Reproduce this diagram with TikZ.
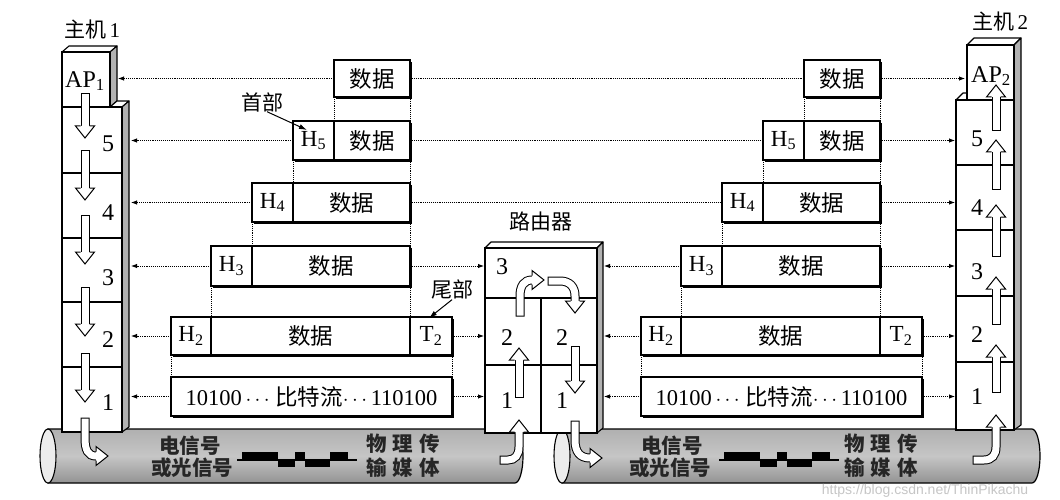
\documentclass[tikz,border=0pt]{standalone}
\usepackage{fontspec}
\setmainfont{Liberation Serif}
\newfontfamily\cjk{Noto Sans CJK SC}
\newfontfamily\wmfont{Liberation Sans}
\usetikzlibrary{arrows.meta,shadows}
\newcommand\ArrDn[3]{\draw[oshaft] (#1,#2) -- (#1,#3-12); \pic[rotate=-90] at (#1,#3-12) {ohead};}
\newcommand\ArrUp[3]{\draw[oshaft] (#1,#2) -- (#1,#3+12); \pic[rotate=90] at (#1,#3+12) {ohead};}
\tikzset{ohead/.pic={\filldraw[fill=white,line width=1pt,line join=miter] (0,-4.5) -- (0,-9.5) -- (12,0) -- (0,9.5) -- (0,4.5);}}
\begin{document}
\begin{tikzpicture}[x=1pt,y=-1pt,
 every node/.style={inner sep=0pt,outer sep=0pt,font=\fontsize{20}{22}\selectfont},
 face/.style={draw,line width=1.3pt,fill=white,anchor=north west},
 topf/.style={draw,line width=1.1pt,fill=white,line join=round},
 sidef/.style={draw,line width=1.1pt,fill=gray!60,line join=round},
 pkt/.style={draw,line width=1.3pt,fill=white,anchor=north west,general shadow={fill=black,shadow xshift=2.4pt,shadow yshift=-2.4pt}},
 fld/.style={draw,line width=1.3pt,anchor=north west,font=\fontsize{23}{24}\selectfont},
 ctxt/.style={font=\cjk\fontsize{21}{22}\selectfont},
 dtxt/.style={font=\cjk\fontsize{22.5}{24}\selectfont},
 num/.style={font=\fontsize{24}{26}\selectfont},
 bits/.style={font=\fontsize{22.5}{24}\selectfont},
 oshaft/.style={line width=1pt,double=white,double distance=7pt,line cap=rect},
 pipe/.style={draw,line width=1.2pt,top color=gray!62,bottom color=gray!85,middle color=gray!45},
 pipeend/.style={draw,line width=1.1pt,fill=gray!15},
 pipetxt/.style={font=\cjk\bfseries\fontsize{20.5}{22}\selectfont,text=black!85},
 dots/.style={densely dotted,line width=0.9pt},
 conn/.style={densely dotted,line width=0.9pt,-{Latex[length=6pt,width=4.5pt]}},
 annot/.style={line width=1pt,-{Latex[length=8pt,width=5pt]}}
]
\fill[white] (0,0) rectangle (1060,500);
\useasboundingbox (0,0) rectangle (1060,500);

% ---------- pipes ----------
\path[pipe] (48,429) -- (515,429) arc[start angle=-90,end angle=90,x radius=8,y radius=27] -- (48,483) -- cycle;
\draw[pipeend] (48,456) ellipse[x radius=8,y radius=27];
\path[pipe] (562,429) -- (1032,429) arc[start angle=-90,end angle=90,x radius=8,y radius=27] -- (562,483) -- cycle;
\draw[pipeend] (562,456) ellipse[x radius=8,y radius=27];

\node[pipetxt] (pl1) at (190,446) {电信号};
\node[pipetxt] (pl2) at (192,468) {或光信号};
\node[pipetxt] (pl3) at (403,444) {物\hspace{6pt}理\hspace{6pt}传};
\node[pipetxt] (pl4) at (403,468) {输\hspace{6pt}媒\hspace{6pt}体};
\node[pipetxt] (pr1) at (672,446) {电信号};
\node[pipetxt] (pr2) at (670,468) {或光信号};
\node[pipetxt] (pr3) at (881,444) {物\hspace{6pt}理\hspace{6pt}传};
\node[pipetxt] (pr4) at (881,468) {输\hspace{6pt}媒\hspace{6pt}体};

\foreach \dx in {0,482}{
 \begin{scope}[xshift=\dx pt]
  \draw[line width=1.5pt] (237,460) -- (357,460);
  \fill (242,452) rectangle (278,460);
  \fill (278,460) rectangle (295,467);
  \fill (295,452) rectangle (305,460);
  \fill (305,460) rectangle (330,467);
  \fill (330,452) rectangle (348,460);
 \end{scope}}

% ---------- host 1 ----------
\draw[topf] (62,52) -- (69,46) -- (117,46) -- (110,52) -- cycle;
\draw[sidef] (110,52) -- (117,46) -- (117,101) -- (110,107) -- cycle;
\draw[topf] (110,107) -- (117,101) -- (129,101) -- (122,107) -- cycle;
\draw[sidef] (122,107) -- (129,101) -- (129,427) -- (122,432) -- cycle;
\node[face,minimum width=48pt,minimum height=55pt] (H1A) at (62,52) {};
\node[face,minimum width=60pt,minimum height=66pt] (H15) at (62,107) {};
\node[face,minimum width=60pt,minimum height=65pt] (H14) at (62,173) {};
\node[face,minimum width=60pt,minimum height=64pt] (H13) at (62,238) {};
\node[face,minimum width=60pt,minimum height=65pt] (H12) at (62,302) {};
\node[face,minimum width=60pt,minimum height=65pt] (H11) at (62,367) {};
\node[num] (H1At) at (85,81) {AP\textsubscript{1}};
\node[num] (n15) at (108,144) {5};
\node[num] (n14) at (108,213) {4};
\node[num] (n13) at (108,278) {3};
\node[num] (n12) at (108,340) {2};
\node[num] (n11) at (108,403) {1};

% ---------- host 2 ----------
\draw[topf] (967,45) -- (974,38) -- (1021,38) -- (1014,45) -- cycle;
\draw[sidef] (1014,45) -- (1021,38) -- (1021,425) -- (1014,430) -- cycle;
\draw[topf] (956,100) -- (963,93) -- (967,93) -- (967,100) -- cycle;
\node[face,minimum width=47pt,minimum height=55pt] (H2A) at (967,45) {};
\node[face,minimum width=58pt,minimum height=65pt] (H25) at (956,100) {};
\node[face,minimum width=58pt,minimum height=65pt] (H24) at (956,165) {};
\node[face,minimum width=58pt,minimum height=66pt] (H23) at (956,230) {};
\node[face,minimum width=58pt,minimum height=66pt] (H22) at (956,296) {};
\node[face,minimum width=58pt,minimum height=68pt] (H21) at (956,362) {};
\node[num] (H2At) at (991,76) {AP\textsubscript{2}};
\node[num] (n25) at (977,139) {5};
\node[num] (n24) at (977,208) {4};
\node[num] (n23) at (977,272) {3};
\node[num] (n22) at (977,335) {2};
\node[num] (n21) at (977,397) {1};

% ---------- router ----------
\draw[topf] (485,248) -- (491,242) -- (603,242) -- (597,248) -- cycle;
\draw[sidef] (597,248) -- (603,242) -- (603,428) -- (597,433) -- cycle;
\node[face,minimum width=112pt,minimum height=50pt] (Rt3) at (485,248) {};
\node[face,minimum width=56pt,minimum height=67pt] (RtL2) at (485,298) {};
\node[face,minimum width=56pt,minimum height=67pt] (RtR2) at (541,298) {};
\node[face,minimum width=56pt,minimum height=68pt] (RtL1) at (485,365) {};
\node[face,minimum width=56pt,minimum height=68pt] (RtR1) at (541,365) {};
\node[num] (r3) at (502,267) {3};
\node[num] (rl2) at (507,338) {2};
\node[num] (rr2) at (562,338) {2};
\node[num] (rl1) at (507,401) {1};
\node[num] (rr1) at (562,401) {1};

% ---------- outline arrows ----------
\ArrDn{85}{98}{138}
\ArrDn{85}{155}{200}
\ArrDn{85}{219}{264}
\ArrDn{85}{291}{336}
\ArrDn{85}{357}{402}
\draw[oshaft] (85,422) -- (85,438) .. controls (85,450) and (88,456) .. (96,456);
\pic at (96,456) {ohead};

\ArrUp{996}{127}{85}
\ArrUp{996}{185}{140}
\ArrUp{996}{252}{205}
\ArrUp{996}{320}{277}
\ArrUp{996}{388}{345}
\draw[oshaft] (977,460) -- (984,460) .. controls (992,460) and (996,455) .. (996,447) -- (996,427);
\pic[rotate=90] at (996,427) {ohead};

\draw[oshaft] (504,460) -- (508,460) .. controls (515,460) and (519,455) .. (519,447) -- (519,432);
\pic[rotate=90] at (519,432) {ohead};
\ArrUp{519}{393}{348}
\draw[oshaft] (520,312) -- (520,296) .. controls (520,286) and (524,280) .. (532,280);
\pic at (532,280) {ohead};
\draw[oshaft] (552,281) -- (560,281) .. controls (570,281) and (575,287) .. (575,296) -- (575,301);
\pic[rotate=-90] at (575,301) {ohead};
\ArrDn{575}{350}{393}
\draw[oshaft] (575,425) -- (575,440) .. controls (575,452) and (580,458) .. (590,458);
\pic at (590,458) {ohead};

% ---------- packets, left ----------
\node[pkt,minimum width=76pt,minimum height=37pt] (PLA) at (334,60) {};
\node[dtxt] (PLAd) at (372,78.5) {数据};
\node[pkt,minimum width=117pt,minimum height=39pt] (PL5) at (293,121) {};
\node[fld,minimum width=41pt,minimum height=39pt] (PL5h) at (293,121) {H\textsubscript{5}};
\node[dtxt] (PL5d) at (372,140.5) {数据};
\node[pkt,minimum width=158pt,minimum height=39pt] (PL4) at (252,183) {};
\node[fld,minimum width=41pt,minimum height=39pt] (PL4h) at (252,183) {H\textsubscript{4}};
\node[dtxt] (PL4d) at (351.5,202.5) {数据};
\node[pkt,minimum width=199pt,minimum height=40pt] (PL3) at (211,246) {};
\node[fld,minimum width=41pt,minimum height=40pt] (PL3h) at (211,246) {H\textsubscript{3}};
\node[dtxt] (PL3d) at (331,266) {数据};
\node[pkt,minimum width=281pt,minimum height=38pt] (PL2) at (171,317) {};
\node[fld,minimum width=40pt,minimum height=38pt] (PL2h) at (171,317) {H\textsubscript{2}};
\node[fld,minimum width=42pt,minimum height=38pt] (PL2t) at (410,317) {T\textsubscript{2}};
\node[dtxt] (PL2d) at (310.5,336) {数据};
\node[pkt,bits,minimum width=281pt,minimum height=39pt] (PL1) at (171,377) {10100\,$\cdots$ {\cjk 比特流}$\cdots$\,110100};

% ---------- packets, right ----------
\node[pkt,minimum width=76pt,minimum height=37pt] (PRA) at (804,60) {};
\node[dtxt] (PRAd) at (842,78.5) {数据};
\node[pkt,minimum width=117pt,minimum height=39pt] (PR5) at (763,121) {};
\node[fld,minimum width=41pt,minimum height=39pt] (PR5h) at (763,121) {H\textsubscript{5}};
\node[dtxt] (PR5d) at (842,140.5) {数据};
\node[pkt,minimum width=158pt,minimum height=39pt] (PR4) at (722,183) {};
\node[fld,minimum width=41pt,minimum height=39pt] (PR4h) at (722,183) {H\textsubscript{4}};
\node[dtxt] (PR4d) at (821.5,202.5) {数据};
\node[pkt,minimum width=199pt,minimum height=40pt] (PR3) at (681,246) {};
\node[fld,minimum width=41pt,minimum height=40pt] (PR3h) at (681,246) {H\textsubscript{3}};
\node[dtxt] (PR3d) at (801,266) {数据};
\node[pkt,minimum width=281pt,minimum height=38pt] (PR2) at (641,317) {};
\node[fld,minimum width=40pt,minimum height=38pt] (PR2h) at (641,317) {H\textsubscript{2}};
\node[fld,minimum width=42pt,minimum height=38pt] (PR2t) at (880,317) {T\textsubscript{2}};
\node[dtxt] (PR2d) at (780.5,336) {数据};
\node[pkt,bits,minimum width=281pt,minimum height=39pt] (PR1) at (641,377) {10100\,$\cdots$ {\cjk 比特流}$\cdots$\,110100};

% ---------- connector targets ----------
\coordinate (h1ap) at (118,0);
\coordinate (h1st) at (131,0);
\coordinate (h2ap) at (965,0);
\coordinate (h2st) at (955,0);
\coordinate (rtl) at (484,0);
\coordinate (rtr) at (604,0);

% horizontal dotted
\draw[conn] (PLA.west) -- (PLA.west -| h1ap);
\draw[dots] (PLA.east) -- (PRA.west);
\draw[conn] (PRA.east) -- (PRA.east -| h2ap);
\draw[conn] (PL5.west) -- (PL5.west -| h1st);
\draw[dots] (PL5.east) -- (PR5.west);
\draw[conn] (PR5.east) -- (PR5.east -| h2st);
\draw[conn] (PL4.west) -- (PL4.west -| h1st);
\draw[dots] (PL4.east) -- (PR4.west);
\draw[conn] (PR4.east) -- (PR4.east -| h2st);
\foreach \r in {3,2,1}{
 \draw[conn] (PL\r.west) -- (PL\r.west -| h1st);
 \draw[conn] (PL\r.east) -- (PL\r.east -| rtl);
 \draw[conn] (PR\r.west) -- (PR\r.west -| rtr);
 \draw[conn] (PR\r.east) -- (PR\r.east -| h2st);
}
% vertical dotted
\foreach \s in {L,R}{
 \draw[dots] (P\s A.south west) -- (P\s 5h.north east);
 \draw[dots] (P\s A.south east) -- (P\s 5.north east);
 \draw[dots] (P\s 5.south west) -- (P\s 4h.north east);
 \draw[dots] (P\s 5.south east) -- (P\s 4.north east);
 \draw[dots] (P\s 4.south west) -- (P\s 3h.north east);
 \draw[dots] (P\s 4.south east) -- (P\s 3.north east);
 \draw[dots] (P\s 3.south west) -- (P\s 2h.north east);
 \draw[dots] (P\s 3.south east) -- (P\s 2t.north west);
 \draw[dots] (P\s 2.south west) -- (P\s 1.north west);
 \draw[dots] (P\s 2.south east) -- (P\s 1.north east);
}

% ---------- annotations ----------
\node[ctxt] (shoubu) at (262,102) {首部};
\draw[annot] ([xshift=5pt]shoubu.south) -- ([shift={(14pt,-9pt)}]PL5h.north west);
\node[ctxt] (weibu) at (452,289) {尾部};
\draw[annot] ([yshift=-1pt]weibu.south) -- ([shift={(-2pt,-1pt)}]PL2t.north);

% ---------- titles ----------
\node[ctxt] (h1lbl) at (92,30) {主机\,{\rmfamily 1}};
\node[ctxt] (h2lbl) at (1000,22) {主机\,{\rmfamily 2}};
\node[ctxt] (rtlbl) at (541,222) {路由器};

\node[text=gray!45,font=\wmfont\fontsize{14}{15}\selectfont] (wm) at (925,491) {https://blog.csdn.net/ThinPikachu};
\end{tikzpicture}
\end{document}
